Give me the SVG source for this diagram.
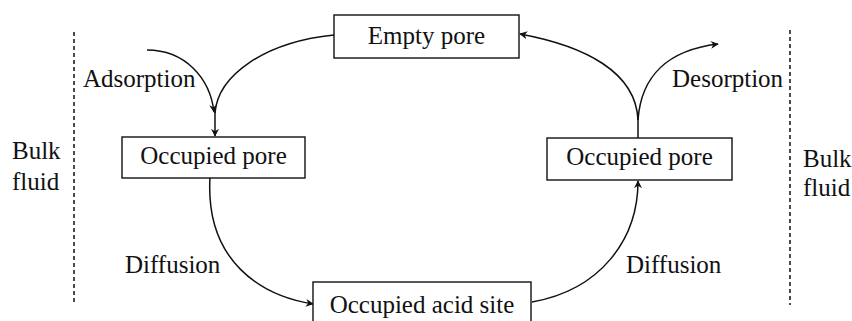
<svg xmlns="http://www.w3.org/2000/svg" width="852" height="321" viewBox="0 0 852 321">
<defs>
<style>
text{font-family:"Liberation Serif","Times New Roman",serif;font-size:25px;fill:#111}
.box{fill:#fff;stroke:#111;stroke-width:1.4}
.c{fill:none;stroke:#111;stroke-width:1.5}
.d{fill:none;stroke:#111;stroke-width:1.5;stroke-dasharray:4,3}
</style>
<marker id="ah" viewBox="0 0 10 10" refX="9" refY="5" markerWidth="8" markerHeight="8" markerUnits="userSpaceOnUse" orient="auto">
<path d="M0,0 L10,5 L0,10 L3,5 z" fill="#111"/>
</marker>
</defs>
<rect width="852" height="321" fill="#fff"/>
<g id="boundaries">
<line class="d" x1="74" y1="32" x2="74" y2="305"/>
<line class="d" x1="790" y1="30" x2="790" y2="305"/>
<text x="12" y="159">Bulk</text>
<text x="12" y="190">fluid</text>
<text x="803" y="167">Bulk</text>
<text x="803" y="196">fluid</text>
</g>
<g id="connectors">
<path class="c" d="M147,50 C185,50 210,78 214,112" marker-end="url(#ah)"/>
<path class="c" d="M334,35 C265,42 218,75 215,113"/>
<path class="c" d="M215,112 L215,136" marker-end="url(#ah)"/>
<path class="c" d="M210,177 C205,262 262,296 313,304" marker-end="url(#ah)"/>
<path class="c" d="M532,302 C600,290 638,240 638,181" marker-end="url(#ah)"/>
<path class="c" d="M638,138 L638,118"/>
<path class="c" d="M638,120 C636,72 585,46 520,34" marker-end="url(#ah)"/>
<path class="c" d="M638,120 C641,76 668,50 718,44" marker-end="url(#ah)"/>
<text x="83" y="87">Adsorption</text>
<text x="672" y="87">Desorption</text>
<text x="125" y="273">Diffusion</text>
<text x="626" y="273">Diffusion</text>
</g>
<g id="empty-pore">
<rect class="box" x="334" y="15" width="185" height="43"/>
<text x="426.5" y="44" text-anchor="middle">Empty pore</text>
</g>
<g id="occupied-pore-left">
<rect class="box" x="122" y="137" width="183" height="41"/>
<text x="213.5" y="164" text-anchor="middle">Occupied pore</text>
</g>
<g id="occupied-pore-right">
<rect class="box" x="547" y="138" width="185" height="42"/>
<text x="639.5" y="165" text-anchor="middle">Occupied pore</text>
</g>
<g id="occupied-acid-site">
<rect class="box" x="313" y="282" width="218" height="45"/>
<text x="422" y="313" text-anchor="middle">Occupied acid site</text>
</g>
</svg>
